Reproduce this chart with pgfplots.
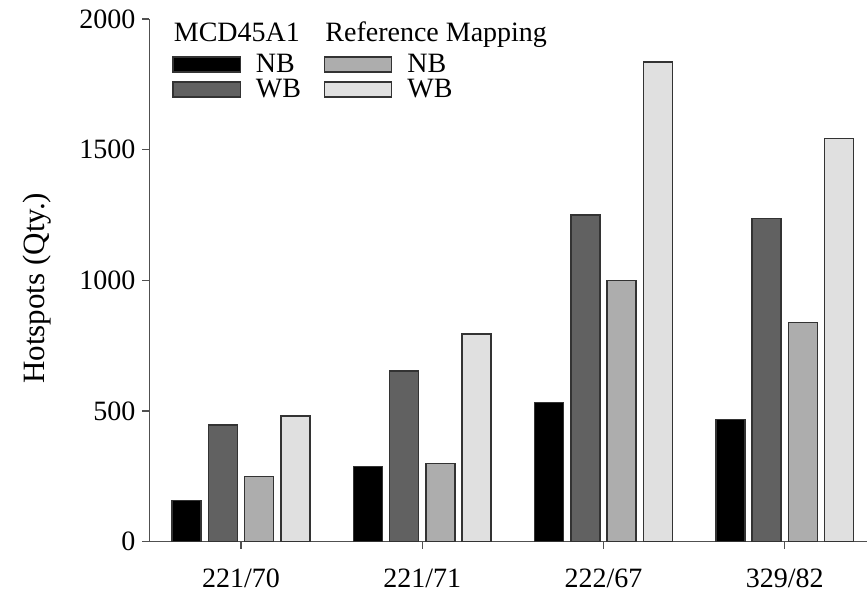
\documentclass[border=0pt]{standalone}
\usepackage{fontspec}
\setmainfont{Liberation Serif}
\usepackage{pgfplots}
\pgfplotsset{compat=1.18}
\usetikzlibrary{calc}
\definecolor{cDark}{HTML}{616161}
\definecolor{cMed}{HTML}{ADADAD}
\definecolor{cLight}{HTML}{E0E0E0}
\definecolor{cEdge}{HTML}{333333}
\definecolor{cAxis}{HTML}{505050}
\begin{document}
\begin{tikzpicture}
\begin{axis}[
  scale only axis,
  width=358.75pt, height=261.4pt,
  xmin=-0.505, xmax=3.454,
  ymin=0, ymax=2000,
  ybar,
  axis lines*=left,
  axis line style={cAxis, line width=0.75pt},
  every tick/.style={cAxis, line width=0.75pt},
  tick align=outside,
  major tick length=3.5pt,
  xtick={0,1,2,3},
  xticklabels={221/70,221/71,222/67,329/82},
  ytick={0,500,1000,1500,2000},
  xtick pos=bottom, ytick pos=left,
  /pgf/number format/assume math mode=true,
  /pgf/number format/1000 sep={},
  font=\fontsize{14}{16.8}\selectfont,
  ticklabel style={font=\fontsize{14}{16.8}\selectfont},
  xticklabel style={yshift=-6.5pt},
  ylabel={Hotspots (Qty.)},
  ylabel style={at={(axis description cs:-0.157,0.485)}, anchor=center, font=\fontsize{15.5}{18}\selectfont},
  legend columns=2,
  legend cell align=left,
  legend image code/.code={\draw[#1] (0pt,-3.75pt) rectangle (33.5pt,3.75pt); \path (40.5pt,0pt);},
  legend style={draw=none, fill=none, inner sep=0pt, outer sep=0pt,
    at={(axis description cs:0,1)}, anchor=north west, xshift=11.5pt, yshift=-1pt,
    font=\fontsize{14}{16.8}\selectfont,
    nodes={inner sep=0.5pt, text height=10pt, text depth=1.5pt},
    row sep=0pt,
    /tikz/every even column/.append style={column sep=11pt}},
]
\addlegendimage{empty legend}
\addlegendentry[text depth=4.5pt]{\hspace*{-41pt}MCD45A1}
\addlegendimage{empty legend}
\addlegendentry[text depth=4.5pt]{\hspace*{-41pt}Reference Mapping}
\addlegendimage{fill=black, draw=cEdge, line width=0.7pt}
\addlegendentry{NB}
\addlegendimage{fill=cMed, draw=cEdge, line width=0.7pt}
\addlegendentry{NB}
\addlegendimage{fill=cDark, draw=cEdge, line width=0.7pt}
\addlegendentry{WB}
\addlegendimage{fill=cLight, draw=cEdge, line width=0.7pt}
\addlegendentry{WB}

\addplot[forget plot, ybar, bar width=0.16, bar shift=-0.3, fill=black, draw=cEdge, line width=0.7pt]
  coordinates {(0,157) (1,287) (2,532) (3,468)};
\addplot[forget plot, ybar, bar width=0.16, bar shift=-0.1, fill=cDark, draw=cEdge, line width=0.7pt]
  coordinates {(0,446) (1,653) (2,1250) (3,1237)};
\addplot[forget plot, ybar, bar width=0.16, bar shift=0.1, fill=cMed, draw=cEdge, line width=0.7pt]
  coordinates {(0,249) (1,300) (2,1000) (3,838)};
\addplot[forget plot, ybar, bar width=0.16, bar shift=0.3, fill=cLight, draw=cEdge, line width=0.7pt]
  coordinates {(0,481) (1,795) (2,1835) (3,1543)};
\end{axis}
\pgfresetboundingbox
\path ($(current axis.south west)+(-74.75pt,-26.15pt)$) rectangle ($(current axis.north east)+(0pt,9.45pt)$);
\end{tikzpicture}
\end{document}
